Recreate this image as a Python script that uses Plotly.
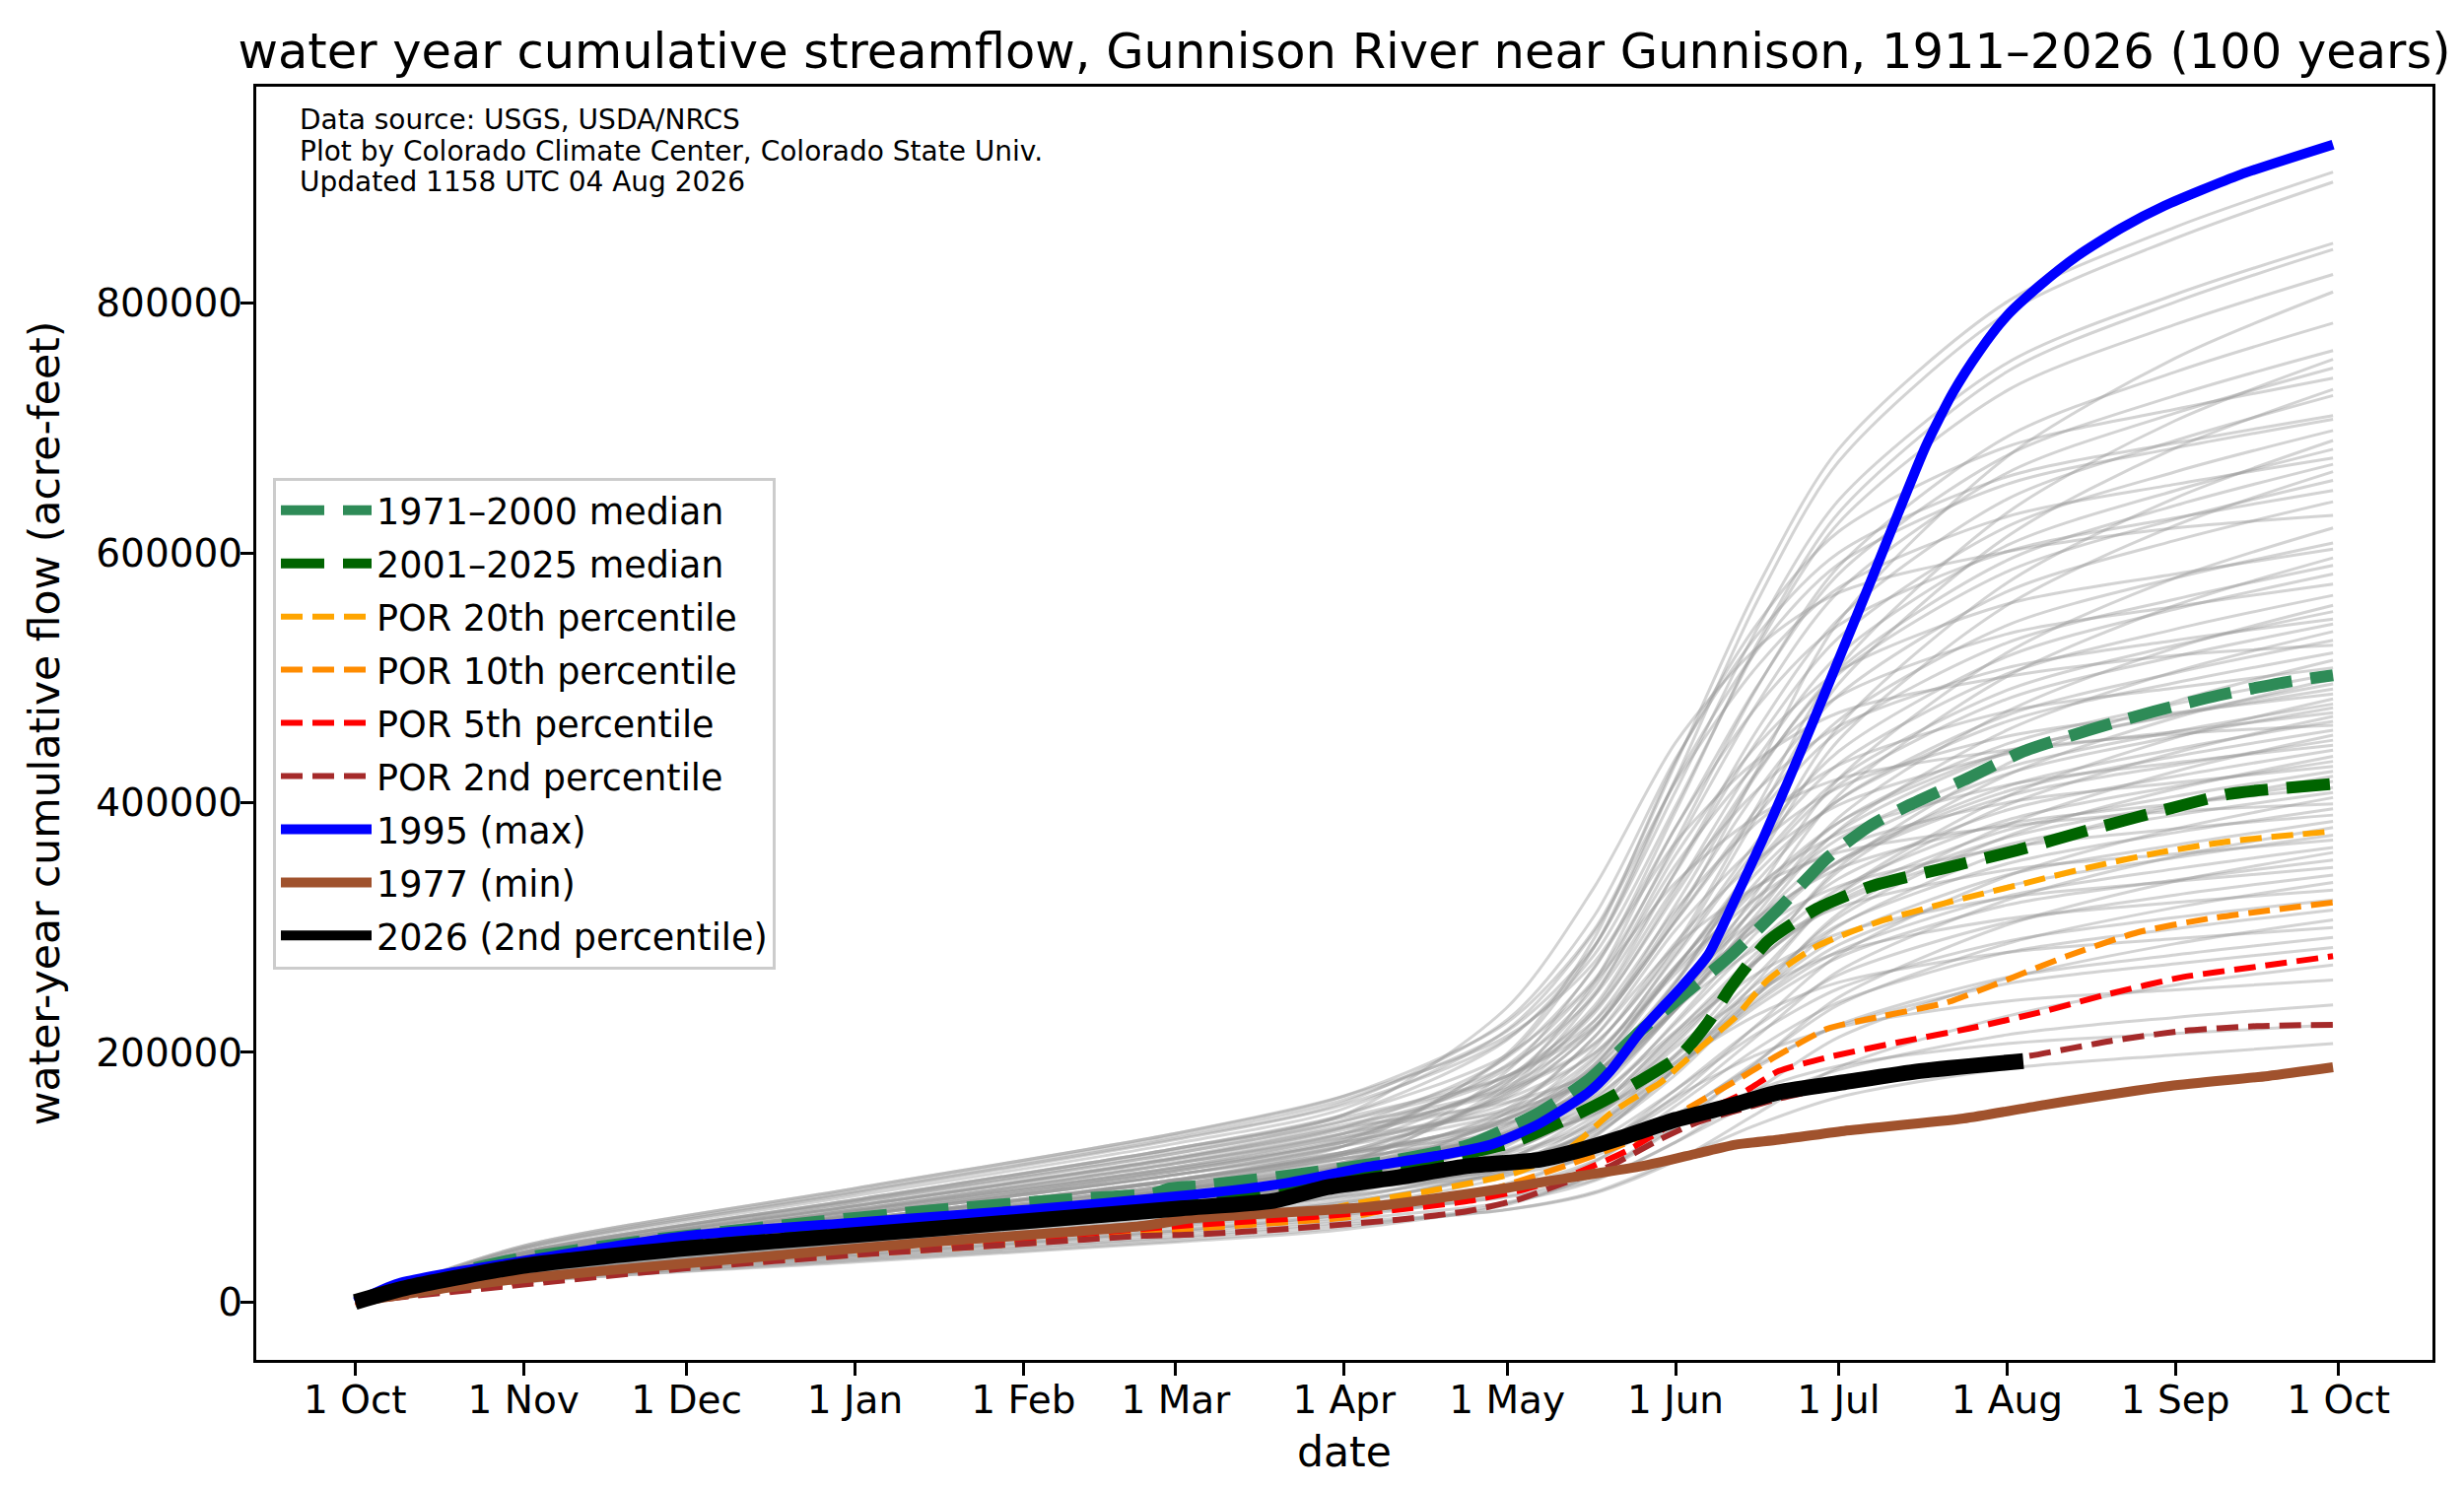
import pandas as pd
import plotly.graph_objects as go

# ---------------- data ----------------
BASE = pd.Timestamp("2025-10-01")          # start of water year

month_tick_days = [0, 31, 61, 92, 123, 151, 182, 212, 243, 273, 304, 335, 365]
month_tick_labels = ["1 Oct", "1 Nov", "1 Dec", "1 Jan", "1 Feb", "1 Mar", "1 Apr",
                     "1 May", "1 Jun", "1 Jul", "1 Aug", "1 Sep", "1 Oct"]
y_tick_vals = [0, 200000, 400000, 600000, 800000]

# other years (grey), thousand acre-feet at these days of the water year
gray_days = [0, 31, 92, 151, 182, 212, 228, 243, 258, 273, 304, 335, 364]
gray_kaf = [
    [0, 17, 34, 51, 62, 74, 88, 114, 142, 164, 187, 198, 207],
    [0, 16, 32, 48, 58, 78, 102, 140, 170, 189, 207, 215, 222],
    [0, 18, 36, 54, 66, 80, 97, 128, 161, 186, 214, 228, 238],
    [0, 19, 38, 57, 70, 93, 121, 164, 198, 220, 241, 250, 258],
    [0, 17, 35, 52, 64, 74, 87, 113, 151, 188, 229, 254, 270],
    [0, 20, 41, 62, 75, 92, 113, 150, 190, 221, 255, 271, 284],
    [0, 16, 33, 49, 60, 79, 102, 144, 188, 222, 260, 278, 292],
    [0, 22, 44, 66, 80, 106, 139, 190, 230, 256, 280, 291, 300],
    [0, 19, 40, 59, 72, 84, 98, 128, 170, 212, 259, 287, 306],
    [0, 18, 37, 56, 68, 88, 112, 157, 203, 240, 280, 299, 314],
    [0, 23, 47, 70, 85, 104, 128, 170, 215, 251, 289, 308, 322],
    [0, 21, 43, 64, 78, 108, 146, 204, 249, 280, 307, 320, 330],
    [0, 24, 50, 74, 90, 102, 117, 149, 193, 238, 287, 316, 336],
    [0, 20, 41, 61, 74, 95, 122, 170, 221, 262, 304, 326, 342],
    [0, 22, 45, 67, 82, 114, 154, 215, 263, 295, 324, 337, 348],
    [0, 26, 52, 78, 95, 116, 142, 188, 237, 276, 318, 338, 354],
    [0, 19, 38, 57, 70, 85, 102, 140, 192, 244, 302, 337, 360],
    [0, 24, 48, 72, 88, 110, 138, 187, 240, 281, 325, 347, 364],
    [0, 27, 55, 82, 100, 132, 173, 235, 284, 316, 346, 359, 370],
    [0, 22, 44, 66, 80, 104, 133, 186, 242, 286, 333, 356, 374],
    [0, 25, 51, 75, 92, 106, 124, 161, 213, 265, 322, 357, 380],
    [0, 21, 42, 62, 76, 101, 132, 187, 246, 292, 342, 366, 385],
    [0, 28, 58, 86, 105, 139, 182, 247, 299, 333, 364, 379, 390],
    [0, 23, 46, 69, 84, 109, 140, 196, 255, 302, 351, 376, 395],
    [0, 26, 54, 80, 98, 152, 212, 285, 333, 360, 381, 393, 399],
    [0, 24, 50, 74, 90, 106, 125, 165, 222, 278, 341, 379, 404],
    [0, 30, 60, 90, 110, 134, 164, 217, 274, 319, 366, 390, 408],
    [0, 23, 47, 71, 86, 125, 174, 249, 308, 347, 383, 399, 412],
    [0, 26, 53, 79, 96, 122, 154, 212, 273, 321, 372, 398, 417],
    [0, 32, 66, 98, 120, 135, 153, 192, 246, 301, 361, 397, 421],
    [0, 24, 48, 72, 88, 115, 149, 209, 273, 324, 378, 405, 425],
    [0, 28, 56, 84, 102, 141, 190, 266, 324, 364, 400, 416, 429],
    [0, 25, 52, 77, 94, 121, 155, 216, 280, 331, 386, 413, 433],
    [0, 31, 63, 94, 115, 131, 150, 192, 250, 308, 373, 411, 437],
    [0, 27, 55, 82, 100, 127, 162, 223, 288, 339, 394, 421, 442],
    [0, 25, 51, 75, 92, 134, 188, 269, 333, 375, 414, 432, 446],
    [0, 34, 69, 102, 125, 151, 183, 242, 304, 352, 405, 430, 450],
    [0, 26, 53, 79, 96, 114, 135, 182, 246, 311, 382, 425, 454],
    [0, 29, 59, 89, 108, 136, 171, 234, 301, 353, 409, 437, 458],
    [0, 35, 72, 107, 130, 190, 256, 336, 389, 419, 442, 455, 462],
    [0, 24, 50, 74, 90, 120, 158, 225, 296, 353, 413, 443, 465],
    [0, 30, 62, 92, 112, 130, 151, 198, 262, 326, 398, 440, 469],
    [0, 28, 57, 85, 104, 148, 203, 288, 354, 398, 439, 457, 472],
    [0, 26, 54, 80, 98, 128, 166, 234, 306, 363, 423, 453, 476],
    [0, 32, 65, 97, 118, 147, 183, 248, 317, 371, 428, 457, 479],
    [0, 25, 52, 77, 94, 113, 137, 187, 257, 327, 405, 452, 483],
    [0, 30, 60, 90, 110, 155, 212, 298, 366, 412, 453, 472, 487],
    [0, 36, 74, 111, 135, 163, 199, 263, 331, 384, 441, 470, 491],
    [0, 27, 55, 82, 100, 132, 171, 242, 317, 377, 440, 471, 495],
    [0, 31, 63, 94, 115, 134, 157, 207, 276, 345, 422, 468, 499],
    [0, 28, 58, 86, 105, 137, 177, 248, 324, 384, 447, 479, 503],
    [0, 32, 66, 98, 120, 167, 225, 314, 384, 430, 473, 492, 508],
    [0, 26, 54, 80, 98, 119, 144, 198, 273, 348, 431, 481, 514],
    [0, 35, 70, 105, 128, 159, 199, 269, 344, 402, 465, 496, 520],
    [0, 30, 60, 90, 110, 185, 268, 368, 434, 472, 501, 518, 526],
    [0, 28, 56, 84, 102, 136, 179, 256, 337, 402, 470, 504, 530],
    [0, 38, 77, 115, 140, 160, 184, 235, 307, 378, 458, 505, 537],
    [0, 30, 62, 92, 112, 146, 190, 267, 349, 414, 483, 517, 543],
    [0, 32, 65, 97, 118, 169, 234, 333, 410, 461, 508, 530, 547],
    [0, 29, 58, 87, 106, 142, 186, 267, 352, 419, 490, 526, 553],
    [0, 36, 73, 108, 132, 153, 179, 234, 311, 388, 473, 524, 558],
    [0, 31, 63, 94, 115, 151, 196, 277, 363, 431, 503, 539, 566],
    [0, 34, 69, 102, 125, 179, 247, 350, 431, 485, 535, 557, 575],
    [0, 29, 59, 89, 108, 146, 194, 279, 369, 441, 517, 555, 583],
    [0, 39, 80, 119, 145, 181, 225, 305, 390, 457, 528, 563, 590],
    [0, 32, 66, 98, 120, 144, 172, 234, 320, 406, 501, 558, 596],
    [0, 30, 62, 92, 112, 171, 245, 358, 446, 505, 559, 583, 603],
    [0, 36, 74, 111, 135, 173, 220, 305, 395, 466, 542, 580, 608],
    [0, 32, 65, 97, 118, 143, 173, 238, 329, 419, 520, 580, 620],
    [0, 40, 82, 123, 150, 236, 332, 448, 524, 568, 601, 620, 630],
    [0, 34, 69, 102, 125, 166, 218, 311, 409, 486, 569, 610, 641],
    [0, 30, 60, 90, 110, 175, 256, 380, 477, 542, 601, 628, 650],
    [0, 38, 77, 115, 140, 181, 233, 326, 425, 503, 585, 627, 658],
    [0, 35, 70, 105, 128, 155, 187, 257, 354, 450, 558, 622, 665],
    [0, 32, 66, 98, 120, 164, 219, 318, 423, 506, 594, 638, 671],
    [0, 42, 85, 127, 155, 218, 296, 416, 509, 572, 629, 655, 676],
    [0, 36, 73, 108, 132, 176, 231, 330, 435, 518, 606, 650, 683],
    [0, 32, 65, 97, 118, 147, 181, 255, 358, 461, 576, 644, 690],
    [0, 39, 80, 119, 145, 189, 245, 344, 449, 532, 621, 665, 698],
    [0, 35, 70, 105, 128, 197, 284, 418, 522, 591, 655, 684, 707],
    [0, 43, 88, 131, 160, 226, 309, 435, 534, 600, 661, 688, 710],
    [0, 35, 72, 107, 130, 178, 237, 345, 458, 547, 643, 690, 726],
    [0, 38, 78, 116, 142, 171, 207, 283, 389, 495, 613, 684, 731],
    [0, 34, 69, 102, 125, 199, 291, 433, 543, 617, 685, 715, 740],
    [0, 40, 82, 123, 150, 198, 258, 365, 479, 569, 664, 712, 748],
    [0, 37, 76, 113, 138, 169, 206, 286, 397, 508, 632, 706, 755],
    [0, 45, 91, 135, 165, 213, 272, 380, 493, 583, 678, 726, 762],
    [0, 36, 74, 111, 135, 187, 252, 369, 492, 589, 693, 745, 784],
    [0, 40, 81, 121, 148, 181, 221, 307, 426, 545, 677, 756, 809],
    [0, 43, 87, 130, 158, 211, 278, 397, 524, 624, 730, 783, 823],
    [0, 38, 77, 115, 140, 196, 267, 393, 527, 632, 745, 801, 843],
    [0, 44, 89, 133, 162, 217, 285, 409, 539, 642, 752, 807, 848],
    [0, 40, 82, 123, 150, 210, 284, 419, 561, 673, 792, 852, 897],
    [0, 45, 91, 135, 165, 224, 298, 431, 572, 683, 801, 861, 905],
]

med_7100_days = [0, 10, 28, 53, 80, 105, 130, 147, 150, 155, 173, 192, 205, 218, 227, 237,
                 245, 253, 262, 271, 279, 286, 296, 307, 319, 331, 343, 356, 364]
med_7100_vals = [0, 14000, 33000, 49000, 62000, 73000, 82000, 87000, 91000, 93000, 102000,
                 114000, 126000, 152000, 178000, 219000, 248000, 277000, 315000, 356000,
                 382000, 398000, 418000, 441000, 458000, 473000, 486000, 497000, 502000]

med_0125_days = [0, 31, 61, 92, 123, 151, 182, 213, 228, 236, 244, 249, 253, 260, 269, 279,
                 293, 306, 319, 332, 345, 364]
med_0125_vals = [0, 30000, 45000, 57000, 67000, 79000, 100000, 128000, 157000, 176000,
                 198000, 224000, 251000, 289000, 315000, 333000, 348000, 362000, 378000,
                 393000, 407000, 415000]

p20_days = [0, 31, 61, 92, 123, 152, 169, 183, 199, 214, 224, 231, 236, 240, 245, 250, 254,
            260, 269, 280, 293, 306, 319, 332, 345, 364]
p20_vals = [0, 18000, 30000, 40000, 49000, 59000, 65000, 78000, 90000, 104000, 125000,
            151000, 165000, 175000, 194000, 213000, 228000, 258000, 285000, 304000, 320000,
            334000, 348000, 360000, 369000, 377000]

p10_days = [0, 31, 61, 92, 123, 152, 183, 192, 205, 215, 224, 237, 246, 254, 262, 271, 280,
            293, 301, 315, 328, 341, 364]
p10_vals = [0, 16000, 28000, 38000, 47000, 58000, 68000, 76000, 85000, 98000, 111000,
            133000, 157000, 177000, 198000, 219000, 228000, 240000, 253000, 277000, 296000,
            307000, 320000]

p05_days = [0, 31, 61, 93, 124, 152, 173, 192, 205, 215, 224, 234, 243, 254, 262, 271, 284,
            297, 310, 323, 336, 349, 364]
p05_vals = [0, 16000, 29000, 41000, 51000, 61000, 67000, 74000, 81000, 90000, 102000,
            121000, 144000, 164000, 185000, 196000, 208000, 219000, 232000, 247000, 260000,
            268000, 277000]

p02_days = [0, 31, 61, 93, 124, 145, 154, 173, 192, 205, 214, 221, 231, 240, 247, 254, 262,
            275, 292, 308, 323, 336, 350, 364]
p02_vals = [0, 14000, 27000, 38000, 47000, 53000, 54000, 59000, 66000, 73000, 82000, 93000,
            109000, 130000, 144000, 153000, 163000, 175000, 187000, 197000, 209000, 217000,
            221000, 222000]

y1995_days = [0, 8, 31, 61, 93, 124, 152, 171, 186, 199, 209, 218, 227, 231, 237, 244, 249,
              254, 259, 264, 269, 274, 279, 284, 289, 294, 299, 304, 310, 317, 325, 333, 347, 364]
y1995_vals = [0, 15000, 33000, 53000, 64000, 74000, 85000, 95000, 108000, 117000, 126000,
              143000, 168000, 185000, 219000, 252000, 278000, 323000, 370000, 420000, 472000,
              525000, 578000, 632000, 685000, 728000, 762000, 790000, 814000, 838000, 860000,
              878000, 903000, 927000]

y1977_days = [0, 18, 31, 61, 103, 145, 154, 186, 210, 224, 237, 247, 254, 262, 274, 296, 311,
              334, 352, 364]
y1977_vals = [0, 12000, 19000, 31000, 47000, 61000, 67000, 76000, 90000, 100000, 109000,
              119000, 126000, 130000, 137000, 147000, 158000, 173000, 181000, 188000]

y2026_days = [0, 10, 31, 61, 93, 124, 152, 169, 179, 192, 205, 218, 224, 234, 243, 253, 262,
              274, 288, 307]
y2026_vals = [0, 12000, 29000, 43000, 54000, 65000, 75000, 81000, 92000, 100000, 109000,
              114000, 120000, 133000, 146000, 157000, 168000, 176000, 185000, 193000]

credit_lines = ["Data source: USGS, USDA/NRCS",
                "Plot by Colorado Climate Center, Colorado State Univ.",
                "Updated 1158 UTC 04 Aug 2026"]

# ---------------- figure ----------------
FONT = "DejaVu Sans"
W, H = 2500, 1511
M_L, M_R, M_T, M_B = 252, 40, 80, 139
PLOT_H = H - M_T - M_B


def to_dates(days):
    return [BASE + pd.Timedelta(days=d) for d in days]


def paper_y(px_from_top):
    return 1 - (px_from_top - M_T) / PLOT_H


fig = go.Figure()

gray_x = to_dates(gray_days)
for row in gray_kaf:
    fig.add_trace(go.Scatter(
        x=gray_x, y=[v * 1000 for v in row], mode="lines",
        line=dict(color="rgba(150,150,150,0.42)", width=3, shape="spline", smoothing=0.8),
        showlegend=False, hoverinfo="skip"))

series = [
    ("1971–2000 median", med_7100_days, med_7100_vals, "#2E8B57", 12, "44px,19px"),
    ("2001–2025 median", med_0125_days, med_0125_vals, "#006400", 12, "44px,19px"),
    ("POR 20th percentile", p20_days, p20_vals, "#FFA500", 6, "22px,10px"),
    ("POR 10th percentile", p10_days, p10_vals, "#FF8C00", 6, "22px,10px"),
    ("POR 5th percentile", p05_days, p05_vals, "#FF0000", 6, "22px,10px"),
    ("POR 2nd percentile", p02_days, p02_vals, "#A52A2A", 6, "22px,10px"),
    ("1995 (max)", y1995_days, y1995_vals, "#0000FF", 10, "solid"),
    ("1977 (min)", y1977_days, y1977_vals, "#A0522D", 10, "solid"),
    ("2026 (2nd percentile)", y2026_days, y2026_vals, "#000000", 16, "solid"),
]
for i, (name, d, v, col, w, dash) in enumerate(series):
    fig.add_trace(go.Scatter(
        x=to_dates(d), y=v, mode="lines", name=name, legendgroup=f"g{i}",
        line=dict(color=col, width=w, dash=dash, shape="spline", smoothing=0.6)))

x_range = [str(BASE - pd.Timedelta(days=18.2)), str(BASE + pd.Timedelta(days=382.3))]
y_max = max(y1995_vals)
y_range = [-0.05 * y_max, 1.05 * y_max]

axis_common = dict(
    showline=True, linecolor="black", linewidth=3, mirror=True,
    ticks="outside", ticklen=13, tickwidth=3, tickcolor="black",
    showgrid=False, zeroline=False,
    tickfont=dict(family=FONT, size=39, color="black"),
    title_font=dict(family=FONT, size=42.5, color="black"),
)

annotations = []
for line, ypx in zip(credit_lines, [114, 145.5, 177]):
    annotations.append(dict(
        text=line, xref="paper", yref="paper", x=0.019, y=paper_y(ypx),
        xanchor="left", yanchor="middle", align="left", showarrow=False,
        font=dict(family=FONT, size=28, color="black")))

fig.update_layout(
    width=W, height=H,
    margin=dict(l=M_L, r=M_R, t=M_T, b=M_B),
    paper_bgcolor="white", plot_bgcolor="white",
    font=dict(family=FONT, color="black"),
    title=dict(text="water year cumulative streamflow, Gunnison River near Gunnison, 1911–2026 (100 years)",
               x=0.5, xref="paper", xanchor="center", y=1 - 44 / H, yanchor="middle",
               font=dict(family=FONT, size=49.5, color="black")),
    xaxis=dict(axis_common, type="date", range=x_range,
               tickvals=to_dates(month_tick_days), ticktext=month_tick_labels,
               ticklabelstandoff=-9,
               title=dict(text="date", standoff=17)),
    yaxis=dict(axis_common, range=y_range, tickvals=y_tick_vals, tickformat="d",
               ticklabelstandoff=-10,
               title=dict(text="water-year cumulative flow (acre-feet)", standoff=24)),
    legend=dict(x=(269 - M_L) / (W - M_L - M_R), xanchor="left", y=0.5, yanchor="middle",
                font=dict(family=FONT, size=36.5, color="black"),
                bgcolor="rgba(255,255,255,0.8)", bordercolor="#cccccc", borderwidth=3,
                itemwidth=92, tracegroupgap=3.5, traceorder="grouped"),
    annotations=annotations,
)

fig.write_html("out.html")
